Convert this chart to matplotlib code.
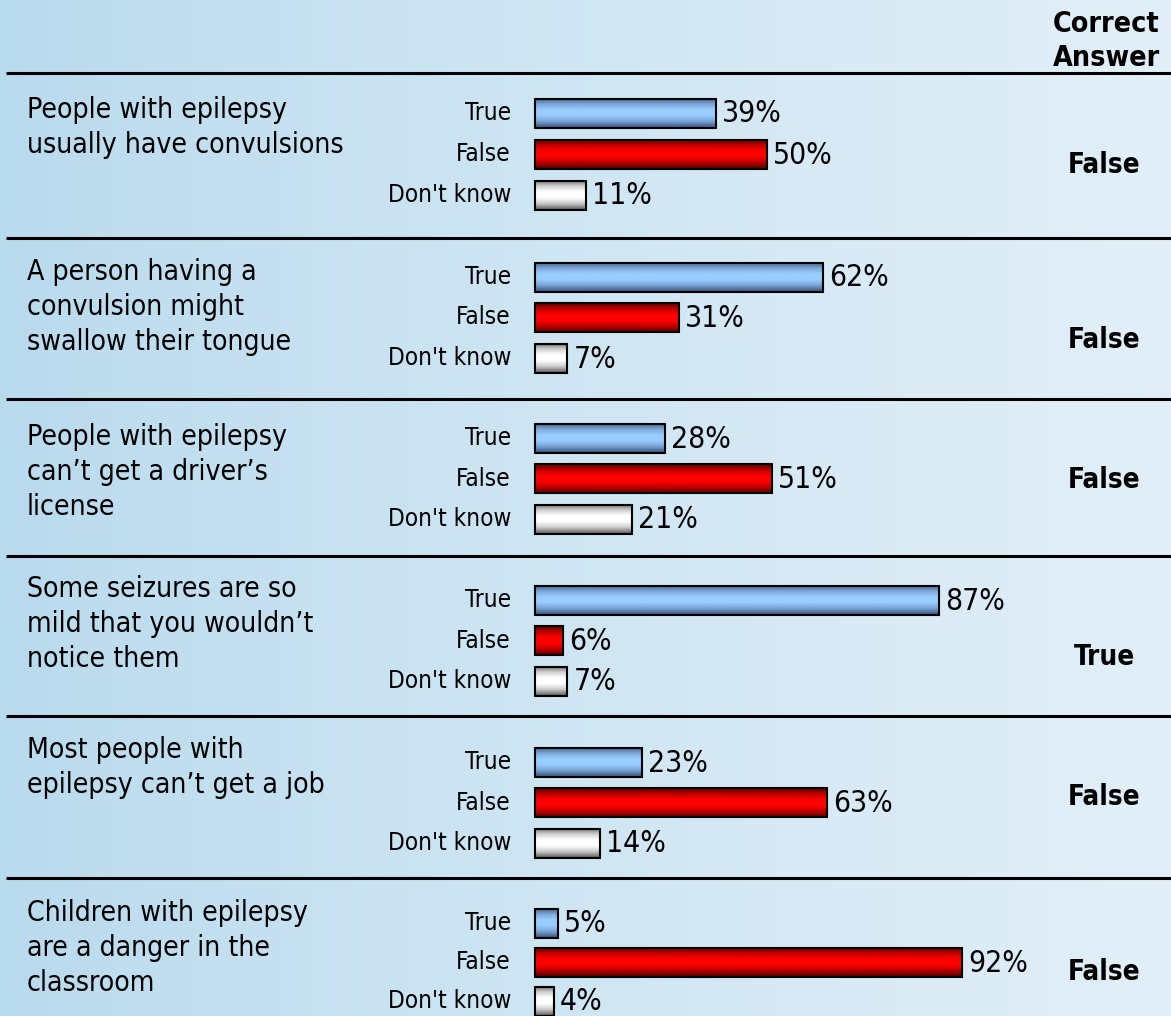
import numpy as np
import matplotlib
matplotlib.use("Agg")
import matplotlib.pyplot as plt
from matplotlib.colors import LinearSegmentedColormap

# ---------------- data ----------------
questions = [
    "People with epilepsy\nusually have convulsions",
    "A person having a\nconvulsion might\nswallow their tongue",
    "People with epilepsy\ncan\u2019t get a driver\u2019s\nlicense",
    "Some seizures are so\nmild that you wouldn\u2019t\nnotice them",
    "Most people with\nepilepsy can\u2019t get a job",
    "Children with epilepsy\nare a danger in the\nclassroom",
]
answer_labels = ["True", "False", "Don't know"]
true_pct = [39, 62, 28, 87, 23, 5]
false_pct = [50, 31, 51, 6, 63, 92]
dontknow_pct = [11, 7, 21, 7, 14, 4]
correct_answer = ["False", "False", "False", "True", "False", "False"]
header = "Correct\nAnswer"

# ---------------- layout ----------------
W, H = 1171, 1016
PX = 4.64          # pixels per percent
X0 = 535           # pixel where bars start
sep_y = [73, 238, 399, 556, 716, 878]
first_row_y = [113, 277, 438, 600, 762, 923]
row_step = [41, 40.5, 40.5, 40.5, 40.5, 39]
bar_h = 29
q_top = [100, 262, 427, 579, 740, 903]
ans_y = [165, 340, 480, 657, 797, 972]

FONT = dict(family="DejaVu Sans", fontstretch="condensed")

def px2x(p):
    return (p - X0) / PX

fig = plt.figure(figsize=(W / 100, H / 100), dpi=100)

# background gradient
bg = fig.add_axes([0, 0, 1, 1])
bg.set_axis_off()
c_left = np.array([0.72, 0.855, 0.93])
c_right = np.array([0.885, 0.937, 0.972])
t = np.linspace(0, 1, 400)
tt = t ** 0.8
grad = (c_left[None, :] * (1 - tt[:, None]) + c_right[None, :] * tt[:, None])[None, :, :]
bg.imshow(grad, extent=[0, 1, 0, 1], aspect="auto")
bg.set_xlim(0, 1)
bg.set_ylim(0, 1)

ax = fig.add_axes([0, 0, 1, 1])
ax.patch.set_alpha(0)
ax.set_axis_off()

cmaps = [
    LinearSegmentedColormap.from_list("b", ["#3f5f88", "#7aa6d6", "#99ccff", "#99ccff", "#7aa6d6", "#3f5f88"]),
    LinearSegmentedColormap.from_list("r", ["#5a0000", "#c00000", "#ff0000", "#ff0000", "#c00000", "#5a0000"]),
    LinearSegmentedColormap.from_list("w", ["#6a6a6a", "#d0d0d0", "#ffffff", "#ffffff", "#d0d0d0", "#6a6a6a"]),
]
vgrad = np.linspace(0, 1, 64)[:, None]

series = [true_pct, false_pct, dontknow_pct]

for i, q in enumerate(questions):
    # separator
    ax.plot([px2x(6), px2x(W)], [sep_y[i], sep_y[i]], color="black", lw=2.2, solid_capstyle="butt")
    # question text
    ax.text(px2x(27), q_top[i] - 4, q, ha="left", va="top", fontsize=20.3,
            linespacing=1.31, color="black", **FONT)
    for j, lab in enumerate(answer_labels):
        y = first_row_y[i] + j * row_step[i]
        val = series[j][i]
        ax.imshow(vgrad, extent=[0, val, y + bar_h / 2, y - bar_h / 2], aspect="auto",
                  cmap=cmaps[j], zorder=2, interpolation="bilinear")
        ax.barh(y, val, height=bar_h, left=0, facecolor="none", edgecolor="black",
                linewidth=1.5, zorder=3)
        ax.text(val + 6 / PX, y + 1, f"{val}%", ha="left", va="center", fontsize=21.5,
                color="black", zorder=4, **FONT)
        ax.text(px2x(511), y, lab, ha="right", va="center", fontsize=17.5,
                color="black", **FONT)
    ax.text(px2x(1104), ans_y[i], correct_answer[i], ha="center", va="center",
            fontsize=20, fontweight="bold", color="black", **FONT)

ax.text(px2x(1160), 41, header, ha="right", va="center", fontsize=20.5,
        fontweight="bold", linespacing=1.3, color="black", **FONT)

ax.set_xlim(px2x(0), px2x(W))
ax.set_ylim(H, 0)

fig.savefig("out.png", dpi=100)
